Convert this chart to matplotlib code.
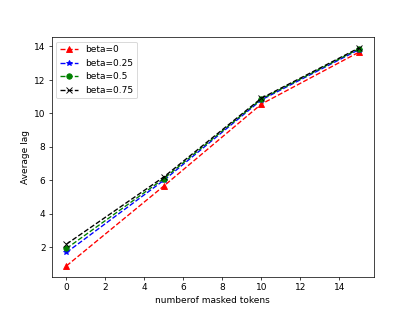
import matplotlib
matplotlib.use("Agg")
import matplotlib.pyplot as plt

masked = [0, 5, 10, 15]
lag_b0 = [0.88, 5.66, 10.55, 13.65]
lag_b025 = [1.68, 6.0, 10.8, 13.8]
lag_b05 = [1.92, 6.1, 10.85, 13.85]
lag_b075 = [2.18, 6.2, 10.9, 13.9]

fig = plt.figure(figsize=(6.4, 4.8), dpi=415/6.4)
ax = fig.add_subplot(111)
ax.plot(masked, lag_b0, 'r--^', label='beta=0')
ax.plot(masked, lag_b025, 'b--*', label='beta=0.25')
ax.plot(masked, lag_b05, 'g--o', label='beta=0.5')
ax.plot(masked, lag_b075, 'k--x', label='beta=0.75')
ax.set_xlabel('numberof masked tokens')
ax.set_ylabel('Average lag')
ax.legend(loc='upper left')
fig.savefig('out.png', dpi=415/6.4)
